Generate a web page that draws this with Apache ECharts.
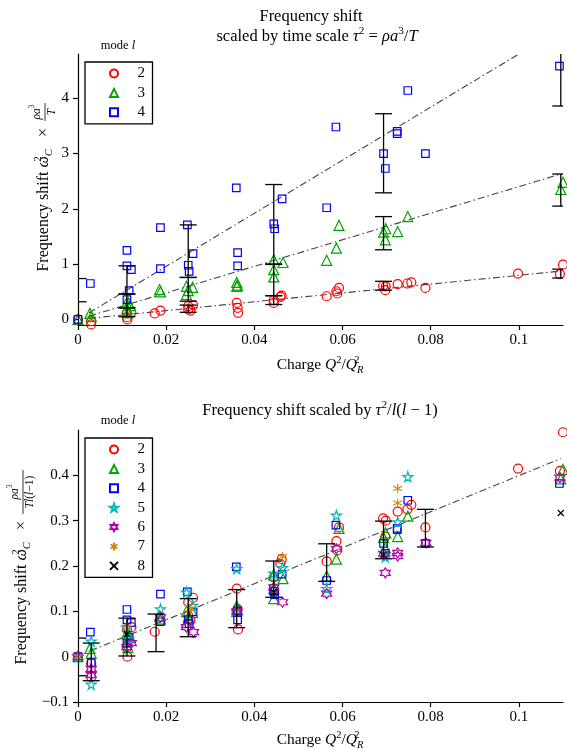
<!DOCTYPE html>
<html><head><meta charset="utf-8">
<script src="https://cdn.jsdelivr.net/npm/echarts@6/dist/echarts.min.js"></script>
<style>html,body{margin:0;padding:0;background:#fff}#c{width:567px;height:749px}</style>
</head><body><div id="c"></div>
<script>
// ---------- tick values ----------
const xTicks = [0, 0.02, 0.04, 0.06, 0.08, 0.1];
const yTicksTop = [0, 1, 2, 3, 4];
const yTicksBot = [-0.1, 0, 0.1, 0.2, 0.3, 0.4];
const modesTop = ['2', '3', '4'];
const modesBot = ['2', '3', '4', '5', '6', '7', '8'];

// ---------- top chart: omega^2 * rho a^3 / T ----------
const top2 = [[0,0],[0.003,-0.03],[0.003,-0.09],[0.0111,0.12],[0.0121,0.13],[0.0111,0.04],[0.0112,0.0],[0.0174,0.11],[0.0187,0.16],[0.025,0.24],[0.0261,0.26],[0.025,0.18],[0.0255,0.16],[0.036,0.30],[0.0362,0.21],[0.0363,0.12],[0.0444,0.30],[0.0444,0.35],[0.0462,0.43],[0.0459,0.41],[0.0564,0.42],[0.0586,0.51],[0.0592,0.57],[0.0588,0.47],[0.0692,0.61],[0.0698,0.60],[0.0697,0.53],[0.0725,0.64],[0.0747,0.65],[0.0756,0.67],[0.0788,0.57],[0.0998,0.83],[0.110,0.99],[0.1093,0.82]];
const top3 = [[0,0],[0.0027,0.11],[0.003,0.05],[0.011,0.30],[0.0115,0.30],[0.0111,0.20],[0.0113,0.12],[0.0118,0.25],[0.0185,0.54],[0.0187,0.50],[0.0246,0.60],[0.026,0.58],[0.0246,0.45],[0.025,0.52],[0.036,0.67],[0.0362,0.62],[0.036,0.60],[0.0444,1.08],[0.0465,1.03],[0.0444,0.90],[0.0444,0.77],[0.0564,1.07],[0.0586,1.29],[0.0592,1.70],[0.0698,1.64],[0.0693,1.58],[0.0697,1.44],[0.0725,1.59],[0.0748,1.86],[0.110,2.48],[0.1095,2.35]];
const top4 = [[0,0],[0.0028,0.65],[0.0111,1.25],[0.0111,0.97],[0.0121,0.90],[0.0116,0.52],[0.0111,0.36],[0.0187,1.66],[0.0187,0.92],[0.0248,1.71],[0.0261,1.19],[0.025,0.98],[0.0252,0.87],[0.0359,2.38],[0.0362,1.21],[0.0362,0.97],[0.0444,1.73],[0.0446,1.64],[0.0463,2.18],[0.0564,2.02],[0.0585,3.48],[0.0693,3.0],[0.0697,2.73],[0.0724,3.40],[0.0724,3.36],[0.0748,4.14],[0.0788,3.0],[0.1092,4.58]];
const fitTop2 = [[0.0025,0.02],[0.1095,0.875]];
const fitTop3 = [[0.0025,0.06],[0.1095,2.63]];
const fitTop4 = [[0.0025,0.12],[0.1,4.8]];
// error bars: [x, low, high]
const errTop = [[0,-0.5,0.74],[0,-0.2,0.32],[0.0111,0.46,0.97],[0.0111,0.21,0.46],[0.0111,0.05,0.21],[0.025,0.76,1.71],[0.025,0.33,0.76],[0.025,0.13,0.26],[0.0444,1.0,2.44],[0.0444,0.43,1.0],[0.0444,0.27,0.43],[0.0693,2.29,3.72],[0.0693,1.26,1.86],[0.0693,0.53,0.69],[0.1095,3.86,5.3],[0.1095,2.05,2.63],[0.1095,0.75,0.91]];

// ---------- bottom chart: omega^2 * rho a^3 / (T l(l-1)) ----------
const bot2 = [[0,0],[0.003,-0.015],[0.003,-0.045],[0.0111,0.06],[0.0121,0.065],[0.0111,0.02],[0.0112,0.0],[0.0174,0.055],[0.0187,0.08],[0.025,0.12],[0.0261,0.13],[0.025,0.09],[0.0255,0.08],[0.036,0.15],[0.0362,0.105],[0.0363,0.06],[0.0444,0.15],[0.0444,0.175],[0.0462,0.215],[0.0459,0.205],[0.0564,0.21],[0.0586,0.255],[0.0592,0.285],[0.0588,0.235],[0.0692,0.305],[0.0698,0.30],[0.0697,0.265],[0.0725,0.32],[0.0747,0.325],[0.0756,0.335],[0.0788,0.285],[0.0998,0.415],[0.110,0.495],[0.1093,0.41]];
const bot3 = [[0,0],[0.0027,0.018],[0.003,0.008],[0.011,0.05],[0.0115,0.05],[0.0111,0.033],[0.0113,0.02],[0.0118,0.042],[0.0185,0.09],[0.0187,0.083],[0.0246,0.10],[0.026,0.097],[0.0246,0.075],[0.025,0.087],[0.036,0.112],[0.0362,0.103],[0.036,0.10],[0.0444,0.18],[0.0465,0.172],[0.0444,0.15],[0.0444,0.128],[0.0564,0.178],[0.0586,0.215],[0.0592,0.283],[0.0698,0.273],[0.0693,0.263],[0.0697,0.24],[0.0725,0.265],[0.0748,0.31],[0.110,0.413],[0.1095,0.392]];
const bot4 = [[0,0],[0.0028,0.054],[0.003,-0.013],[0.0111,0.104],[0.0111,0.081],[0.0121,0.075],[0.0116,0.043],[0.0111,0.03],[0.0187,0.138],[0.0187,0.077],[0.0248,0.143],[0.0261,0.099],[0.025,0.082],[0.0252,0.073],[0.0359,0.198],[0.0362,0.101],[0.0362,0.081],[0.0444,0.144],[0.0446,0.137],[0.0463,0.182],[0.0564,0.168],[0.0585,0.29],[0.0693,0.25],[0.0697,0.228],[0.0724,0.283],[0.0724,0.28],[0.0748,0.345],[0.0788,0.25],[0.1092,0.382]];
const bot5 = [[0,0],[0.003,0.034],[0.003,-0.061],[0.011,0.065],[0.0115,0.04],[0.0187,0.105],[0.0246,0.142],[0.026,0.113],[0.036,0.194],[0.0444,0.184],[0.0464,0.196],[0.0564,0.15],[0.0586,0.312],[0.0697,0.22],[0.0725,0.297],[0.0748,0.397]];
const bot6 = [[0,0],[0.003,-0.027],[0.003,-0.04],[0.0111,0.021],[0.0121,0.03],[0.0187,0.087],[0.0246,0.065],[0.0262,0.054],[0.036,0.1],[0.0444,0.153],[0.0464,0.12],[0.0564,0.139],[0.0586,0.238],[0.0697,0.185],[0.0693,0.227],[0.0725,0.229],[0.0725,0.222],[0.0789,0.251],[0.1093,0.395]];
const bot7 = [[0,0],[0.0111,0.065],[0.0255,0.105],[0.0464,0.221],[0.0725,0.371],[0.0725,0.339]];
const bot8 = [[0.0111,0.05],[0.0444,0.142],[0.0693,0.225],[0.1095,0.317]];
const fitBot = [[0.0028,0.013],[0.1095,0.437]];
const errBot = [[0,-0.042,0.041],[0.003,-0.053,0.030],[0.0111,0.0015,0.085],[0.0177,0.011,0.094],[0.025,0.044,0.128],[0.036,0.064,0.148],[0.0444,0.131,0.211],[0.0564,0.166,0.249],[0.0693,0.216,0.299],[0.0788,0.242,0.325]];

// ---------- styling ----------
const SERIF = '"Liberation Serif", "DejaVu Serif", serif';
const STAR = 'path://M50 0 L61 35 L98 35 L68 57 L79 91 L50 70 L21 91 L32 57 L2 35 L39 35 Z';
const HEXA = 'path://M50 0 L64 25 L93 25 L79 50 L93 75 L64 75 L50 100 L36 75 L7 75 L21 50 L7 25 L36 25 Z';
const AST = 'path://M50 0 L50 100 M7 25 L93 75 M93 25 L7 75';
const CROSS = 'path://M0 0 L100 100 M100 0 L0 100';
const markerDefs = {
  '2': {symbol: 'circle', size: 9, color: '#ff0000'},
  '3': {symbol: 'triangle', size: 10, color: '#00a600'},
  '4': {symbol: 'rect', size: 7.5, color: '#0000ff'},
  '5': {symbol: STAR, size: 10, color: '#00b8b8'},
  '6': {symbol: HEXA, size: 10, color: '#b400b4'},
  '7': {symbol: AST, size: 9, color: '#d08a00'},
  '8': {symbol: CROSS, size: 6, color: '#000000'}
};
function scatter(name, data, gi) {
  const m = markerDefs[name];
  return {
    type: 'scatter', name, data, xAxisIndex: gi, yAxisIndex: gi,
    symbol: m.symbol, symbolSize: m.size, clip: true, silent: true, z: 3,
    itemStyle: {color: 'rgba(0,0,0,0)', borderColor: m.color, borderWidth: 1.2, opacity: 1},
    emphasis: {disabled: true}
  };
}
function fitLine(data, gi) {
  return {
    type: 'line', data, xAxisIndex: gi, yAxisIndex: gi, symbol: 'none', silent: true, z: 2,
    lineStyle: {color: '#444', width: 1.1, type: [7, 3, 1.5, 3]}, clip: true
  };
}
function renderErr(params, api) {
  const x = api.value(0), lo = api.value(1), hi = api.value(2);
  const a = api.coord([x, lo]), b = api.coord([x, hi]);
  const w = 8.5;
  const st = {stroke: '#000', lineWidth: 1.3, fill: null};
  return {type: 'group', children: [
    {type: 'line', shape: {x1: a[0], y1: a[1], x2: b[0], y2: b[1]}, style: st},
    {type: 'line', shape: {x1: a[0] - w, y1: a[1], x2: a[0] + w, y2: a[1]}, style: st},
    {type: 'line', shape: {x1: b[0] - w, y1: b[1], x2: b[0] + w, y2: b[1]}, style: st}
  ]};
}
function errSeries(data, gi) {
  return {type: 'custom', data, xAxisIndex: gi, yAxisIndex: gi, renderItem: renderErr,
    encode: {x: 0, y: [1, 2]}, clip: true, silent: true, z: 4};
}
const fmt = v => String(+(+v).toFixed(3)).replace('-', '\u2212');
function xAxisCfg(gi) {
  return {
    gridIndex: gi, type: 'value', min: 0, max: 0.11,
    axisLine: {show: true, onZero: false, lineStyle: {color: '#000', width: 1.2}},
    axisTick: {show: true, inside: false, length: 5, customValues: xTicks, lineStyle: {color: '#000', width: 1.2}},
    axisLabel: {customValues: xTicks, formatter: fmt, color: '#000', fontFamily: SERIF, fontSize: 15, margin: 8},
    splitLine: {show: false}
  };
}
function yAxisCfg(gi, min, max, ticks) {
  return {
    gridIndex: gi, type: 'value', min, max,
    axisLine: {show: true, onZero: false, lineStyle: {color: '#000', width: 1.2}},
    axisTick: {show: true, inside: false, length: 5, customValues: ticks, lineStyle: {color: '#000', width: 1.2}},
    axisLabel: {customValues: ticks, formatter: fmt, color: '#000', fontFamily: SERIF, fontSize: 15, margin: 9},
    splitLine: {show: false}
  };
}
function legendCfg(top, data) {
  return {
    left: 85, top, orient: 'vertical', data, selectedMode: false,
    borderColor: '#000', borderWidth: 1.3, padding: [4, 7.5, 4, 24],
    itemWidth: 8, itemHeight: 8, itemGap: 4.4,
    textStyle: {fontFamily: SERIF, fontSize: 15, color: '#000', lineHeight: 15, padding: [0, 0, 0, 14.5]}
  };
}

// rich text styles for math-like labels
function rich(size) {
  return {
    t: {fontFamily: SERIF, fontSize: size, lineHeight: size + 6, fill: '#000'},
    m: {fontFamily: SERIF, fontSize: size, fontStyle: 'italic', lineHeight: size + 6, fill: '#000'},
    s: {fontFamily: SERIF, fontSize: size * 0.68, lineHeight: size * 0.68, verticalAlign: 'top', fill: '#000'},
    s0: {fontFamily: SERIF, fontSize: size * 0.68, lineHeight: size * 0.68, verticalAlign: 'top', width: 0, fill: '#000'},
    u: {fontFamily: SERIF, fontSize: size * 0.68, fontStyle: 'italic', lineHeight: size * 0.68, verticalAlign: 'bottom', fill: '#000'}
  };
}
function txt(x, y, text, size, extra) {
  return Object.assign({type: 'text', x, y, silent: true,
    style: {text, align: 'center', verticalAlign: 'middle', rich: rich(size), fill: '#000', fontFamily: SERIF, fontSize: size}}, extra || {});
}
function yLabel(cx, joinY, denom) {
  const children = [
    {type: 'text', x: -4, y: 0, style: {text: '{t|Frequency shift }{m|ω}{s0|2}{u|C}{t|   ×}', align: 'right', verticalAlign: 'middle', rich: rich(16), fontSize: 16, fontFamily: SERIF}},
    {type: 'text', x: denom.c, y: -7, style: {text: '{m|ρa}{s|3}', align: 'center', verticalAlign: 'middle', rich: rich(11.5), fontSize: 11.5, fontFamily: SERIF}},
    {type: 'line', shape: {x1: 3, y1: 1, x2: 3 + denom.w, y2: 1}, style: {stroke: '#000', lineWidth: 0.8}},
    {type: 'text', x: denom.c, y: 8, style: {text: denom.text, align: 'center', verticalAlign: 'middle', rich: rich(11.5), fontSize: 11.5, fontFamily: SERIF}}
  ];
  return {type: 'group', x: cx, y: joinY, rotation: Math.PI / 2, silent: true, children};
}

const chart = echarts.init(document.getElementById('c'), null, {renderer: 'canvas'});
chart.setOption({
  animation: false,
  backgroundColor: '#fff',
  grid: [
    {left: 78, top: 54, width: 485, height: 271},
    {left: 78, top: 430, width: 485, height: 272}
  ],
  xAxis: [xAxisCfg(0), xAxisCfg(1)],
  yAxis: [yAxisCfg(0, -0.1, 4.8, yTicksTop), yAxisCfg(1, -0.1, 0.5, yTicksBot)],
  legend: [legendCfg(62, modesTop), legendCfg(438, modesBot)],
  series: [
    fitLine(fitTop2, 0), fitLine(fitTop3, 0), fitLine(fitTop4, 0),
    scatter('2', top2, 0), scatter('3', top3, 0), scatter('4', top4, 0),
    errSeries(errTop, 0),
    fitLine(fitBot, 1),
    scatter('2', bot2, 1), scatter('3', bot3, 1), scatter('4', bot4, 1),
    scatter('5', bot5, 1), scatter('6', bot6, 1), scatter('7', bot7, 1), scatter('8', bot8, 1),
    errSeries(errBot, 1)
  ],
  graphic: [
    txt(311, 17, '{t|Frequency shift}', 16.5),
    txt(317, 37, '{t|scaled by time scale }{m|τ}{s|2}{t| = }{m|ρa}{s|3}{t|/}{m|T}', 16.5),
    txt(118, 46, '{t|mode }{m|l}', 12.5),
    txt(320, 411, '{t|Frequency shift scaled by }{m|τ}{s|2}{t|/}{m|l}{t|(}{m|l}{t| − 1)}', 16.5),
    txt(118, 421, '{t|mode }{m|l}', 12.5),
    txt(320, 365, '{t|Charge }{m|Q}{s|2}{t|/}{m|Q}{s0|2}{u|R}', 15.5),
    txt(320, 740, '{t|Charge }{m|Q}{s|2}{t|/}{m|Q}{s0|2}{u|R}', 15.5),
    yLabel(44, 124, {text: '{m|T}', c: 12, w: 18}),
    yLabel(22, 517, {text: '{m|Tl}{t|(}{m|l}{t|−1)}', c: 25, w: 44})
  ]
});
</script></body></html>
